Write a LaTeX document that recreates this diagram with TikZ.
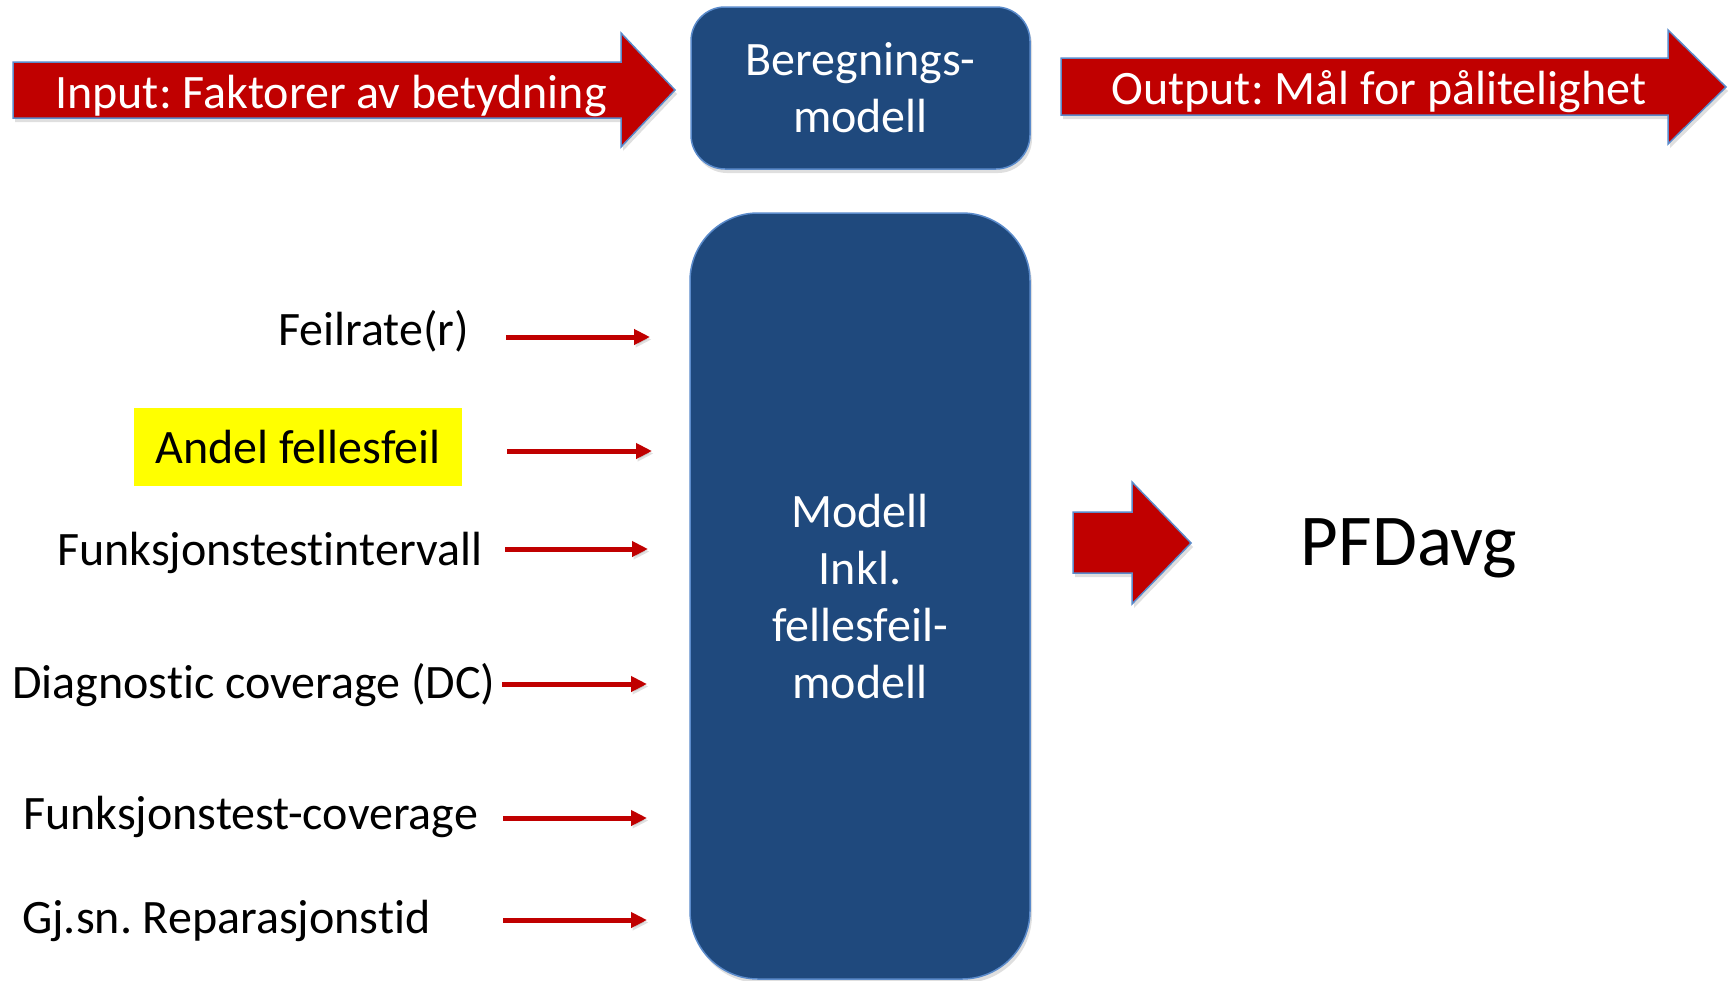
\documentclass[tikz,border=0pt]{standalone}
\usepackage{fontspec}
\setmainfont{Carlito}[Ligatures=NoCommon]
\usetikzlibrary{shadows,arrows.meta}
\definecolor{myred}{HTML}{C00000}
\definecolor{myblue}{HTML}{1F497D}
\definecolor{myedge}{HTML}{5B8BCB}
\definecolor{hl}{HTML}{FFFF00}
\frenchspacing
\begin{document}
\begin{tikzpicture}[x=1pt,y=-1pt,
  blockarrow/.style={fill=myred, draw=myedge, line width=1.5pt, line join=miter,
    drop shadow={opacity=0.25, shadow xshift=2pt, shadow yshift=-4pt}},
  bluebox/.style={fill=myblue, draw=myedge, line width=1.5pt, inner sep=0pt,
    text=white, align=center, font=\fontsize{48}{57}\selectfont,
    drop shadow={opacity=0.25, shadow xshift=2pt, shadow yshift=-4pt}},
  lbl/.style={inner sep=0pt, anchor=base west, font=\fontsize{48}{57}\selectfont},
  arrtext/.style={inner sep=0pt, text=white, font=\fontsize{48}{57}\selectfont},
  smallarrow/.style={draw=myred, line width=5pt, -{Triangle[length=16pt,width=15pt]},
    preaction={draw=black, opacity=0.12, transform canvas={shift={(1.5pt,-2.5pt)}}}}
]
\useasboundingbox (0,0) rectangle (1729,980);

% top block arrows
\filldraw[blockarrow] (13,62) -- (621,62) -- (621,33) -- (675,90) -- (621,147) -- (621,118) -- (13,118) -- cycle;
\node[arrtext] (input) at (331,96) {Input: Faktorer av betydning};
\filldraw[blockarrow] (1061,58) -- (1668,58) -- (1668,30) -- (1726,87) -- (1668,144) -- (1668,115) -- (1061,115) -- cycle;
\node[arrtext] (output) at (1379,92) {Output: Mål for pålitelighet};

% boxes
\node[bluebox, rounded corners=34pt, minimum width=339pt, minimum height=162pt] (calc) at (860.5,88) {Beregnings-\\modell};
\node[bluebox, rounded corners=68pt, minimum width=340pt, minimum height=766pt] (model) at (860,596) {Modell\\Inkl.\\fellesfeil-\\modell};

% big arrow and result
\filldraw[blockarrow] (1073,512) -- (1132,512) -- (1132,482) -- (1191,543) -- (1132,604) -- (1132,573) -- (1073,573) -- cycle;
\node[inner sep=0pt, anchor=base, font=\fontsize{73}{88}\selectfont] (pfd) at (1409,565) {PFDavg};

% input labels
\node[lbl] (l1) at (278,345) {Feilrate(r)};
\node[fill=hl, inner sep=0pt, minimum width=328pt, minimum height=78pt, font=\fontsize{48}{57}\selectfont] (l2) at (298,447) {Andel fellesfeil};
\node[lbl] (l3) at (57,565) {Funksjonstestintervall};
\node[lbl] (l4) at (12,698) {Diagnostic coverage (DC)};
\node[lbl] (l5) at (23,829) {Funksjonstest-coverage};
\node[lbl] (l6) at (22,933) {Gj.sn. Reparasjonstid};

% small arrows
\coordinate (s1) at (506,337); \coordinate (e1) at (650,337);
\coordinate (s2) at (507,451); \coordinate (e2) at (652,451);
\coordinate (s3) at (505,549); \coordinate (e3) at (648,549);
\coordinate (s4) at (502,684); \coordinate (e4) at (647,684);
\coordinate (s5) at (503,818); \coordinate (e5) at (647,818);
\coordinate (s6) at (503,920); \coordinate (e6) at (647,920);
\foreach \i in {1,...,6} {\draw[smallarrow] (s\i) -- (e\i);}
\end{tikzpicture}
\end{document}
